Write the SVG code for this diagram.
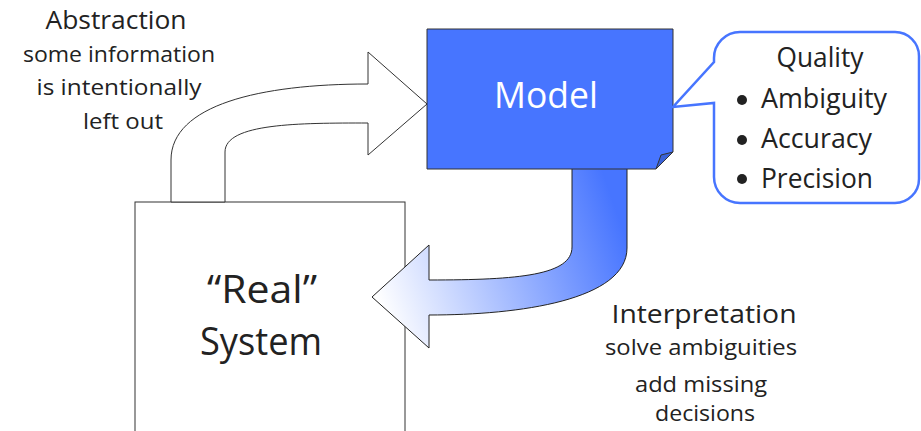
<svg xmlns="http://www.w3.org/2000/svg" width="921" height="431" viewBox="0 0 921 431">
<defs>
<linearGradient id="g" gradientUnits="userSpaceOnUse" x1="385" y1="320" x2="625" y2="235">
<stop offset="0" stop-color="#ffffff"/>
<stop offset="1" stop-color="#4775ff"/>
</linearGradient>
<style>
text{font-family:"Open Sans","Noto Sans","DejaVu Sans",sans-serif;fill:#222;}
.ln{fill:#fff;stroke:#333;stroke-width:1;}
.c{text-anchor:middle;}
.s{font-size:22px;}
.q{font-size:27px;}
</style>
</defs>
<g id="real-system">
<rect x="135" y="202" width="270" height="240" class="ln"/>
<text x="262" y="303" class="c" font-size="38" textLength="110" lengthAdjust="spacingAndGlyphs">“Real”</text>
<text x="261" y="355" class="c" font-size="38" textLength="122" lengthAdjust="spacingAndGlyphs">System</text>
</g>
<g id="connectors">
<path id="abstraction-arrow" class="ln" d="M171,202 V160 C171,105 260,84 368,84 V52 L427,104 L368,155 V123 C300,123 225,123 225,152 V202 Z"/>
<path id="interpretation-arrow" fill="url(#g)" stroke="#222" stroke-width="1" d="M572,163 H627 V248 C627,300 520,315 429,315 V348 L372,297 L429,245 V280 C520,280 572,275 572,247 Z"/>
</g>
<g id="model">
<path d="M427,29 H673 V152 L656,169 H427 Z" fill="#4775ff" stroke="#333" stroke-width="1"/>
<path d="M673,152 L656,169 L661,155 Z" fill="#3a62d8" stroke="#333" stroke-width="1"/>
<text x="546" y="108" class="c" font-size="37" textLength="104" lengthAdjust="spacingAndGlyphs" style="fill:#fff">Model</text>
</g>
<g id="quality">
<path d="M740,32 H895 A24,24 0 0 1 919,56 V179 A24,24 0 0 1 895,203 H740 A26,26 0 0 1 714,177 V103 L673,107 L714,62 V58 A26,26 0 0 1 740,32 Z" fill="#fff" stroke="#4775ff" stroke-width="2.5"/>
<text x="820" y="67" class="c q" textLength="87" lengthAdjust="spacingAndGlyphs">Quality</text>
<circle cx="742" cy="100" r="5" fill="#222"/>
<text x="761" y="108" class="q" textLength="126" lengthAdjust="spacingAndGlyphs">Ambiguity</text>
<circle cx="742" cy="140" r="5" fill="#222"/>
<text x="761" y="148" class="q" textLength="111" lengthAdjust="spacingAndGlyphs">Accuracy</text>
<circle cx="742" cy="179" r="5" fill="#222"/>
<text x="761" y="188" class="q" textLength="112" lengthAdjust="spacingAndGlyphs">Precision</text>
</g>
<g id="abstraction-label">
<text x="116" y="29" class="c" font-size="25" textLength="141" lengthAdjust="spacingAndGlyphs">Abstraction</text>
<text x="119" y="62" class="c s" textLength="192" lengthAdjust="spacingAndGlyphs">some information</text>
<text x="119" y="95" class="c s" textLength="165" lengthAdjust="spacingAndGlyphs">is intentionally</text>
<text x="123" y="129" class="c s" textLength="80" lengthAdjust="spacingAndGlyphs">left out</text>
</g>
<g id="interpretation-label">
<text x="704" y="323" class="c" font-size="26" textLength="185" lengthAdjust="spacingAndGlyphs">Interpretation</text>
<text x="701" y="355" class="c s" textLength="192" lengthAdjust="spacingAndGlyphs">solve ambiguities</text>
<text x="701" y="392" class="c s" textLength="132" lengthAdjust="spacingAndGlyphs">add missing</text>
<text x="705" y="421" class="c s" textLength="100" lengthAdjust="spacingAndGlyphs">decisions</text>
</g>
</svg>
